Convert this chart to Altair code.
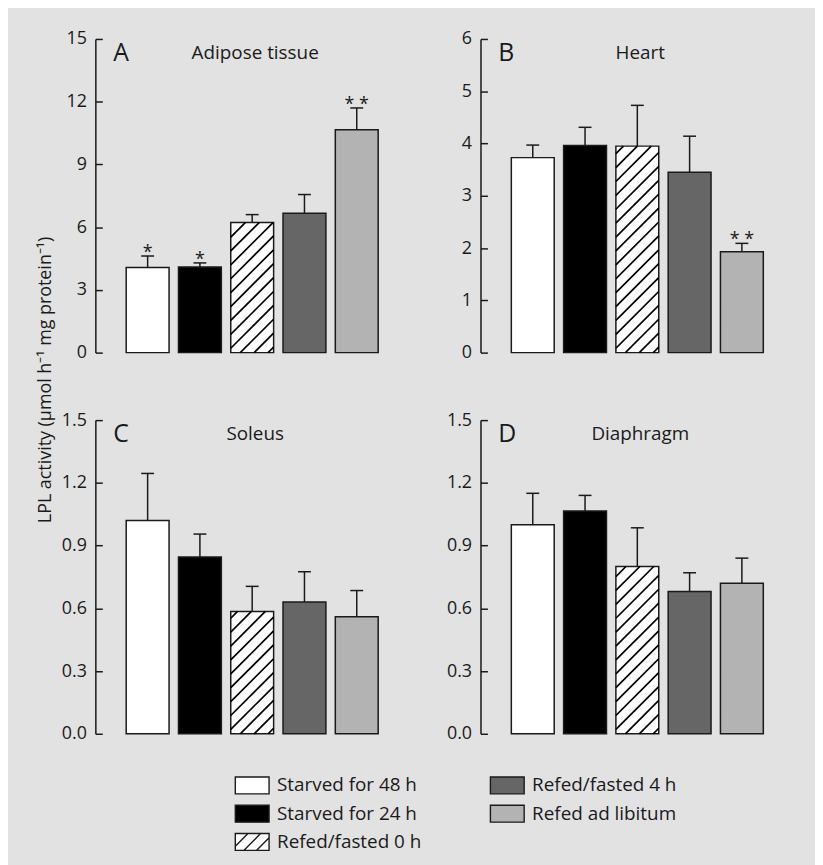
import altair as alt
import numpy as np
import pandas as pd

# ---------------- data ----------------
groups = ["Starved for 48 h", "Starved for 24 h", "Refed/fasted 0 h",
          "Refed/fasted 4 h", "Refed ad libitum"]
bar_fills = ["#ffffff", "#000000", "#ffffff", "#666666", "#b3b3b3"]
hatched = [False, False, True, False, False]
positions = [1, 2, 3, 4, 5]

letters = ["A", "B", "C", "D"]
names = ["Adipose tissue", "Heart", "Soleus", "Diaphragm"]
y_max = [15, 6, 1.5, 1.5]
y_ticks = [[0, 3, 6, 9, 12, 15], [0, 1, 2, 3, 4, 5, 6],
           [0, 0.3, 0.6, 0.9, 1.2, 1.5], [0, 0.3, 0.6, 0.9, 1.2, 1.5]]
y_formats = ["d", "d", ".1f", ".1f"]

mean_A = [4.07, 4.10, 6.22, 6.66, 10.66]
sem_A = [0.55, 0.19, 0.38, 0.90, 1.04]
star_A = ["*", "*", "", "", "* *"]
mean_B = [3.73, 3.96, 3.95, 3.45, 1.93]
sem_B = [0.24, 0.35, 0.78, 0.69, 0.16]
star_B = ["", "", "", "", "* *"]
mean_C = [1.02, 0.845, 0.585, 0.63, 0.56]
sem_C = [0.225, 0.11, 0.12, 0.145, 0.125]
mean_D = [1.0, 1.065, 0.80, 0.68, 0.72]
sem_D = [0.15, 0.075, 0.185, 0.09, 0.12]
no_stars = ["", "", "", "", ""]

y_title = "LPL activity (µmol h\u207b\u00b9 mg protein\u207b\u00b9)"

legend_col = [0, 0, 0, 1, 1]
legend_row = [0, 1, 2, 0, 1]

# ---------------- style ----------------
FONT = "Open Sans"
INK = "#1a1a1a"
BG = "#e2e2e2"
W = 316
H = 316
X_DOMAIN = [0, 6]
HALF = 0.41
HATCH_STEP = 14.0
COL_SPACE = 72
ROW_SPACE = 68

RECT_PATH = "M-2,-1H2V1H-2Z"
HATCH_PATH = RECT_PATH + " M-2,0.5L-0.5,-1 M-1,1L1,-1 M0.5,1L2,-0.5"
swatch_paths = [HATCH_PATH if h else RECT_PATH for h in hatched]


def hatch_frame(means, ymax):
    sx = W / (X_DOMAIN[1] - X_DOMAIN[0])
    sy = H / ymax
    rows = []
    for p, m, h in zip(positions, means, hatched):
        if not h:
            continue
        bw = 2 * HALF * sx
        hp = m * sy
        for d in np.arange(-bw + HATCH_STEP * 0.4, hp, HATCH_STEP):
            ua = max(0.0, -d)
            ub = min(bw, hp - d)
            if ub - ua < 1:
                continue
            rows.append({"hx": p - HALF + ua / sx, "hy": (ua + d) / sy,
                         "hx2": p - HALF + ub / sx, "hy2": (ub + d) / sy})
    return pd.DataFrame(rows)


def panel(i, means, sems, stars):
    ymax = y_max[i]
    df = pd.DataFrame({"group": groups, "pos": positions, "mean": means,
                       "sem": sems, "star": stars})
    df["x0"] = df["pos"] - HALF
    df["x1"] = df["pos"] + HALF
    df["top"] = df["mean"] + df["sem"]
    df["zero"] = 0.0

    xs = alt.Scale(domain=X_DOMAIN, nice=False, zero=False)
    ys = alt.Scale(domain=[0, ymax], nice=False, zero=True)
    x_axis = alt.Axis(domain=True, domainColor=INK, domainWidth=1.5,
                      ticks=False, labels=False, grid=False, title=None)

    main_axis_kw = dict(orient="left", values=y_ticks[i], format=y_formats[i],
                        ticks=False, tickSize=0, domain=True, domainColor=INK,
                        domainWidth=1.5, grid=False, labelFont=FONT,
                        labelFontSize=18, labelColor=INK, labelPadding=9)
    if i == 2:
        main_axis = alt.Axis(title=y_title, titleFont=FONT, titleFontSize=18,
                             titleFontWeight="normal", titleColor=INK,
                             titleAngle=270, titleAlign="center",
                             titleBaseline="middle", titleX=-50, titleY=-41,
                             **main_axis_kw)
    else:
        main_axis = alt.Axis(title=None, **main_axis_kw)
    tick_axis = alt.Axis(orient="left", offset=-7, values=y_ticks[i],
                         ticks=True, tickSize=7, tickWidth=1.5, tickColor=INK,
                         labels=False, domain=False, grid=False, title=None)

    base = alt.Chart(df)
    bars = base.mark_rect(stroke=INK, strokeWidth=1.5).encode(
        x=alt.X("x0:Q", scale=xs, axis=x_axis),
        x2="x1:Q",
        y=alt.Y("zero:Q", scale=ys, axis=main_axis),
        y2="mean:Q",
        fill=alt.Fill("group:N", scale=alt.Scale(domain=groups, range=bar_fills),
                      legend=None),
    )
    hdf = hatch_frame(means, ymax)
    hatch = alt.Chart(hdf).mark_rule(color="#000000", strokeWidth=1.7).encode(
        x=alt.X("hx:Q", scale=xs, axis=None),
        y=alt.Y("hy:Q", scale=ys, axis=None),
        x2="hx2:Q",
        y2="hy2:Q",
    )
    err = base.mark_rule(color=INK, strokeWidth=1.5).encode(
        x=alt.X("pos:Q", scale=xs, axis=None),
        y=alt.Y("mean:Q", scale=ys, axis=None),
        y2="top:Q",
    )
    caps = base.mark_tick(orient="horizontal", size=13, thickness=1.5,
                          color=INK, opacity=1).encode(
        x=alt.X("pos:Q", scale=xs, axis=None),
        y=alt.Y("top:Q", scale=ys, axis=tick_axis),
    )
    star_txt = base.mark_text(font=FONT, fontSize=18, color=INK,
                              baseline="alphabetic", dy=2).encode(
        x=alt.X("pos:Q", scale=xs, axis=None),
        y=alt.Y("top:Q", scale=ys, axis=None),
        text="star:N",
    )
    lab = pd.DataFrame({"letter": [letters[i]], "name": [names[i]],
                        "xl": [X_DOMAIN[0]], "xc": [sum(X_DOMAIN) / 2],
                        "yt": [ymax]})
    letter_txt = alt.Chart(lab).mark_text(font=FONT, fontSize=25, color=INK,
                                          align="left", baseline="middle",
                                          dx=18, dy=14).encode(
        x=alt.X("xl:Q", scale=xs, axis=None),
        y=alt.Y("yt:Q", scale=ys, axis=None),
        text="letter:N",
    )
    name_txt = alt.Chart(lab).mark_text(font=FONT, fontSize=19, color=INK,
                                        align="center", baseline="middle",
                                        dx=3, dy=14).encode(
        x=alt.X("xc:Q", scale=xs, axis=None),
        y=alt.Y("yt:Q", scale=ys, axis=None),
        text="name:N",
    )
    layer = alt.layer(bars, hatch, err, caps, star_txt, letter_txt, name_txt)
    return layer.resolve_axis(y="independent").properties(width=W, height=H)


pA = panel(0, mean_A, sem_A, star_A)
pB = panel(1, mean_B, sem_B, star_B)
pC = panel(2, mean_C, sem_C, no_stars)
pD = panel(3, mean_D, sem_D, no_stars)

# ---------------- legend (third grid row, under panel C) ----------------
LH = 57
col0_px = 158.0        # swatch centre of first legend column, from grid left
col_gap_px = 257.0     # distance between legend columns
row_px = 28.5          # distance between legend rows
first_row_px = -16.0   # first legend row relative to top of legend cell
leg_x_domain = [-col0_px / col_gap_px, (W - col0_px) / col_gap_px]
leg_y_domain = [-first_row_px / row_px, (LH - first_row_px) / row_px]
leg_df = pd.DataFrame({"group": groups, "col": legend_col, "row": legend_row})
lxs = alt.Scale(domain=leg_x_domain, nice=False, zero=False)
lys = alt.Scale(domain=leg_y_domain, nice=False, zero=False, reverse=True)
leg_base = alt.Chart(leg_df)
leg_sw = leg_base.mark_point(filled=True, size=289, stroke=INK, strokeWidth=1.4,
                             opacity=1, fillOpacity=1, strokeOpacity=1).encode(
    x=alt.X("col:Q", scale=lxs, axis=None),
    y=alt.Y("row:Q", scale=lys, axis=None),
    fill=alt.Fill("group:N", scale=alt.Scale(domain=groups, range=bar_fills),
                  legend=None),
    shape=alt.Shape("group:N", scale=alt.Scale(domain=groups, range=swatch_paths),
                    legend=None),
)
leg_tx = leg_base.mark_text(font=FONT, fontSize=19, color=INK, align="left",
                            baseline="middle", dx=25).encode(
    x=alt.X("col:Q", scale=lxs, axis=None),
    y=alt.Y("row:Q", scale=lys, axis=None),
    text="group:N",
)
legend = alt.layer(leg_sw, leg_tx).properties(width=W, height=LH)

# ---------------- layout ----------------
chart = alt.concat(
    pA, pB, pC, pD, legend, columns=2,
    spacing={"row": ROW_SPACE, "column": COL_SPACE}, bounds="flush",
).resolve_scale(fill="independent", shape="independent").properties(
    background=BG,
    padding={"left": 28, "top": 18, "right": 20, "bottom": 3},
).configure_view(stroke="transparent")

chart.save("out.html", embed_options={"renderer": "svg", "actions": False})
